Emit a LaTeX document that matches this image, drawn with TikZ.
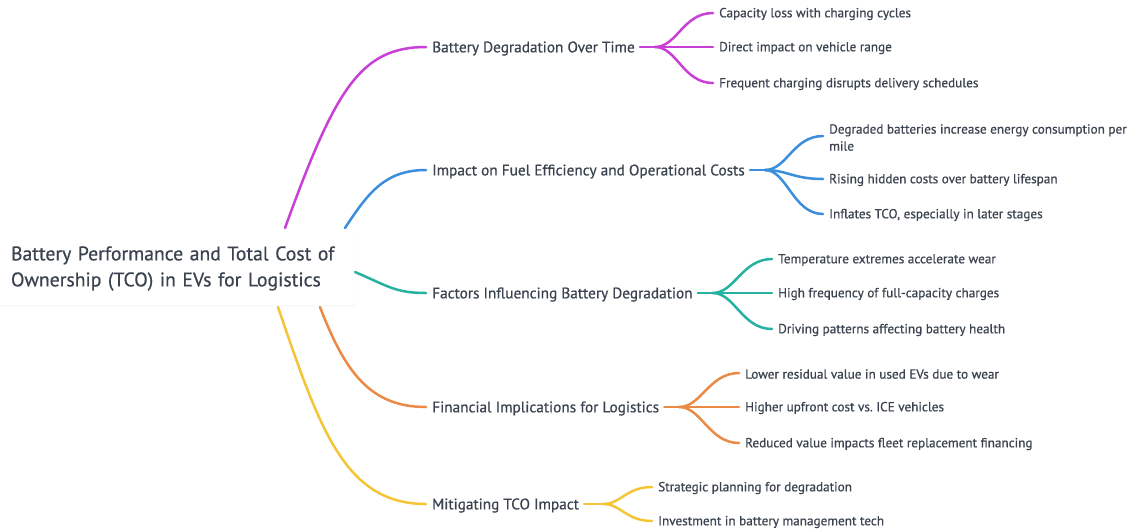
\documentclass[tikz,border=0pt]{standalone}
\usepackage{fontspec}
\setmainfont{PT Sans}[BoldFont={PT Sans}, BoldFeatures={FakeBold=0.6}]
\frenchspacing
\usetikzlibrary{shadows}
\definecolor{cmag}{HTML}{C940D6}
\definecolor{cblu}{HTML}{3A8EDB}
\definecolor{ctea}{HTML}{26B1A1}
\definecolor{cora}{HTML}{EB8A45}
\definecolor{cyel}{HTML}{F5C537}
\definecolor{ctxt}{HTML}{3A434F}
\tikzset{
  link/.style={line width=2.5pt, line cap=round},
  mainnode/.style={anchor=west, inner sep=0pt, yshift=-1.5pt, text=ctxt, font=\fontsize{15.3}{17}\selectfont\bfseries},
  leafnode/.style={anchor=west, inner sep=0pt, yshift=-1pt, text=ctxt, font=\fontsize{13.2}{17}\selectfont\bfseries, align=left},
  rootnode/.style={fill=white, rounded corners=2pt, minimum width=360pt, minimum height=73pt,
     text width=328pt, inner xsep=16pt, align=left, text=ctxt, font=\fontsize{19.7}{26}\selectfont\bfseries,
     drop shadow={opacity=0.08, shadow xshift=0pt, shadow yshift=-1pt}},
}
\begin{document}
\begin{tikzpicture}[x=1pt,y=-1pt]
\useasboundingbox (0,0) rectangle (1134,531);
\fill[white] (0,0) rectangle (1134,531);
% root
\node[rootnode] (root) at (175,268.5) {Battery Performance and Total Cost of\\Ownership (TCO) in EVs for Logistics};
\coordinate (s1) at (285,228);
\coordinate (s2) at (345,228);
\coordinate (s3) at (355,272);
\coordinate (s4) at (320,307);
\coordinate (s5) at (278,307);
% main nodes
\node[mainnode] (m1) at (432,47) {Battery Degradation Over Time};
\node[mainnode] (m2) at (432,170) {Impact on Fuel Efficiency and Operational Costs};
\node[mainnode] (m3) at (432,293) {Factors Influencing Battery Degradation};
\node[mainnode] (m4) at (432,407) {Financial Implications for Logistics};
\node[mainnode] (m5) at (432,504) {Mitigating TCO Impact};
% root links
\draw[link,cmag] (s1) .. controls (335,90) and (360,47) .. ([xshift=-6pt,yshift=1.5pt]m1.west);
\draw[link,cblu] (s2) .. controls (368,193) and (385,170) .. ([xshift=-6pt,yshift=1.5pt]m2.west);
\draw[link,ctea] (s3) .. controls (388,286) and (395,293) .. ([xshift=-6pt,yshift=1.5pt]m3.west);
\draw[link,cora] (s4) .. controls (345,372) and (370,407) .. ([xshift=-6pt,yshift=1.5pt]m4.west);
\draw[link,cyel] (s5) .. controls (320,430) and (345,504) .. ([xshift=-6pt,yshift=1.5pt]m5.west);
% leaves
\node[leafnode] (a1) at (719,13) {Capacity loss with charging cycles};
\node[leafnode] (a2) at (719,47) {Direct impact on vehicle range};
\node[leafnode] (a3) at (719,83) {Frequent charging disrupts delivery schedules};
\node[leafnode] (b1) at (829,136.5) {Degraded batteries increase energy consumption per\\mile};
\coordinate (b1j) at (823,136);
\node[leafnode] (b2) at (829,179) {Rising hidden costs over battery lifespan};
\node[leafnode] (b3) at (829,214) {Inflates TCO, especially in later stages};
\node[leafnode] (c1) at (778,259) {Temperature extremes accelerate wear};
\node[leafnode] (c2) at (778,293) {High frequency of full-capacity charges};
\node[leafnode] (c3) at (778,329) {Driving patterns affecting battery health};
\node[leafnode] (d1) at (745,373) {Lower residual value in used EVs due to wear};
\node[leafnode] (d2) at (745,407) {Higher upfront cost vs. ICE vehicles};
\node[leafnode] (d3) at (745,443) {Reduced value impacts fleet replacement financing};
\node[leafnode] (e1) at (658,487) {Strategic planning for degradation};
\node[leafnode] (e2) at (658,521) {Investment in battery management tech};
% forks
\coordinate (f1) at ([xshift=20pt,yshift=1.5pt]m1.east);
\coordinate (f2) at ([xshift=20pt,yshift=1.5pt]m2.east);
\coordinate (f3) at ([xshift=20pt,yshift=1.5pt]m3.east);
\coordinate (f4) at ([xshift=20pt,yshift=1.5pt]m4.east);
\coordinate (f5) at ([xshift=24pt,yshift=1.5pt]m5.east);
\draw[link,cmag] ([xshift=5pt,yshift=1.5pt]m1.east) -- (f1);
\foreach \c in {a1,a2,a3}
  \draw[link,cmag] (f1) .. controls +(22,0) and +(-30,0) .. ([xshift=-6pt,yshift=1pt]\c.west);
\draw[link,cblu] ([xshift=5pt,yshift=1.5pt]m2.east) -- (f2);
\draw[link,cblu] (f2) .. controls +(22,0) and +(-30,0) .. (b1j);
\foreach \c in {b2,b3}
  \draw[link,cblu] (f2) .. controls +(22,0) and +(-30,0) .. ([xshift=-6pt,yshift=1pt]\c.west);
\draw[link,ctea] ([xshift=5pt,yshift=1.5pt]m3.east) -- (f3);
\foreach \c in {c1,c2,c3}
  \draw[link,ctea] (f3) .. controls +(22,0) and +(-30,0) .. ([xshift=-6pt,yshift=1pt]\c.west);
\draw[link,cora] ([xshift=5pt,yshift=1.5pt]m4.east) -- (f4);
\foreach \c in {d1,d2,d3}
  \draw[link,cora] (f4) .. controls +(22,0) and +(-30,0) .. ([xshift=-6pt,yshift=1pt]\c.west);
\draw[link,cyel] ([xshift=5pt,yshift=1.5pt]m5.east) -- (f5);
\foreach \c in {e1,e2}
  \draw[link,cyel] (f5) .. controls +(18,0) and +(-26,0) .. ([xshift=-6pt,yshift=1pt]\c.west);
\end{tikzpicture}
\end{document}
